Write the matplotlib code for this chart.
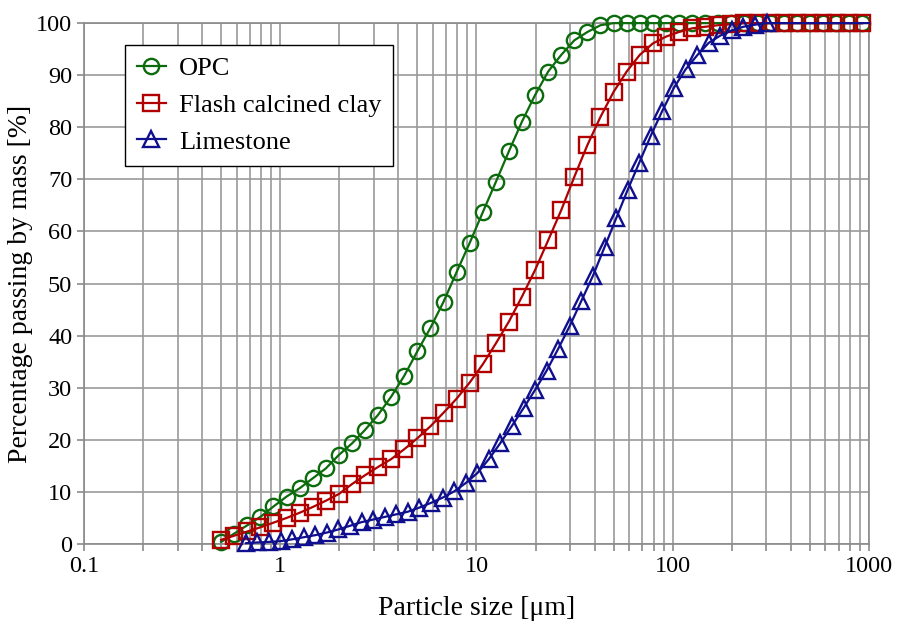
import matplotlib
matplotlib.use("Agg")
import matplotlib.pyplot as plt
from matplotlib.ticker import FixedLocator, NullFormatter

plt.rcParams['font.family'] = ['Liberation Serif', 'DejaVu Serif']

# particle size classes [um] for OPC and flash calcined clay
size_a = [0.5, 0.583, 0.680, 0.792, 0.924, 1.077, 1.256, 1.464, 1.707, 1.990,
          2.320, 2.705, 3.154, 3.677, 4.287, 4.998, 5.828, 6.794, 7.921, 9.235,
          10.77, 12.55, 14.63, 17.06, 19.89, 23.19, 27.04, 31.53, 36.76, 42.85,
          49.96, 58.25, 67.92, 79.19, 92.32, 107.6, 125.5, 146.3, 170.6, 198.9,
          231.9, 270.4, 315.2, 367.5, 428.5, 499.6, 582.5, 679.1, 791.8, 923.1]

opc = [0.4, 2.0, 3.6, 5.2, 7.2, 9.1, 10.7, 12.6, 14.5, 17.1,
       19.3, 21.9, 24.8, 28.3, 32.3, 37.0, 41.5, 46.5, 52.2, 57.8,
       63.7, 69.5, 75.4, 81.1, 86.2, 90.7, 93.9, 96.7, 98.3, 99.6,
       100, 100, 100, 100, 100, 100, 100, 100, 100, 100,
       100, 100, 100, 100, 100, 100, 100, 100, 100, 100]

clay = [0.8, 1.6, 2.4, 3.2, 4.1, 5.0, 6.0, 7.1, 8.3, 9.6,
        11.5, 13.2, 14.8, 16.3, 18.2, 20.3, 22.6, 25.2, 27.9, 31.0,
        34.5, 38.5, 42.7, 47.5, 52.6, 58.3, 64.1, 70.5, 76.6, 82.0,
        86.8, 90.7, 93.9, 96.1, 97.4, 98.3, 99.0, 99.3, 99.6, 99.8,
        100, 100, 100, 100, 100, 100, 100, 100, 100, 100]

# particle size classes [um] for limestone
size_b = [0.669, 0.766, 0.877, 1.005, 1.151, 1.318, 1.510, 1.729, 1.981, 2.269,
          2.599, 2.976, 3.409, 3.905, 4.472, 5.122, 5.867, 6.720, 7.697, 8.816,
          10.097, 11.565, 13.246, 15.172, 17.377, 19.904, 22.797, 26.111, 29.907, 34.255,
          39.234, 44.938, 51.471, 58.953, 67.523, 77.339, 88.583, 101.46, 116.21, 133.10,
          152.45, 174.62, 200.00, 229.08, 262.38, 300.52,
          344.21, 394.24, 451.56, 517.20, 592.39, 678.50, 777.14, 890.12, 1000.0]

limestone = [0.15, 0.3, 0.4, 0.55, 0.9, 1.3, 1.7, 2.2, 2.8, 3.5,
             4.2, 4.7, 5.2, 5.7, 6.2, 7.0, 7.9, 8.9, 10.1, 11.7,
             13.6, 16.3, 19.4, 22.7, 26.1, 29.6, 33.3, 37.5, 41.9, 46.7,
             51.5, 57.0, 62.5, 68.0, 73.2, 78.4, 83.2, 87.6, 91.1, 93.8,
             96.2, 97.6, 98.6, 99.3, 99.7, 100,
             100, 100, 100, 100, 100, 100, 100, 100, 100]

fig, ax = plt.subplots(figsize=(8.99, 6.25), dpi=100)
fig.subplots_adjust(left=0.0934, right=0.9666, top=0.963, bottom=0.1296)

ax.plot(size_a, opc, color='#0c6b0c', lw=1.6, marker='o', ms=11, mfc='none',
        mew=1.7, label='OPC', clip_on=False, zorder=3)
ax.plot(size_a, clay, color='#b00000', lw=1.6, marker='s', ms=11, mfc='none',
        mew=1.7, label='Flash calcined clay', clip_on=False, zorder=4)
ax.plot(size_b, limestone, color='#10108f', lw=1.6, marker='^', ms=11, mfc='none',
        mew=1.7, markevery=slice(0, 46), label='Limestone', clip_on=False, zorder=5)

ax.set_xscale('log')
ax.set_xlim(0.1, 1000)
ax.set_ylim(0, 100)
ax.set_xticks([0.1, 1, 10, 100, 1000])
ax.set_xticklabels(['0.1', '1', '10', '100', '1000'])
ax.xaxis.set_minor_locator(FixedLocator([m * 10.0 ** e for e in range(-1, 3) for m in range(2, 10)]))
ax.xaxis.set_minor_formatter(NullFormatter())
ax.set_yticks(range(0, 101, 10))

ax.grid(True, which='both', axis='x', color='#9a9a9a', lw=1.2)
ax.grid(True, which='major', axis='y', color='#9a9a9a', lw=1.2)
ax.set_axisbelow(True)
for s in ax.spines.values():
    s.set_color('#8a8a8a')
    s.set_linewidth(1.2)
ax.tick_params(which='both', direction='out', color='#8a8a8a', width=1.2, labelsize=17.5)
ax.tick_params(which='major', length=5)
ax.tick_params(which='minor', length=5)

ax.set_xlabel('Particle size [\u03bcm]', fontsize=20, labelpad=14)
ax.set_ylabel('Percentage passing by mass [%]', fontsize=20, labelpad=2)

leg = ax.legend(loc='upper left', bbox_to_anchor=(0.052, 0.958), fontsize=19,
                frameon=True, fancybox=False, framealpha=1, edgecolor='black',
                handlelength=1.1, handletextpad=0.5, borderpad=0.45, labelspacing=0.5,
                borderaxespad=0)
leg.get_frame().set_linewidth(1.0)

plt.savefig('out.png', dpi=100)
